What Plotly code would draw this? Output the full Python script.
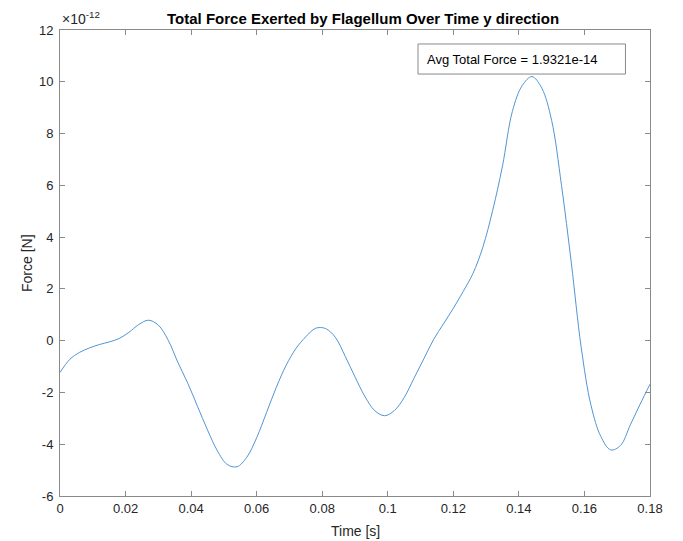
import plotly.graph_objects as go

# Time [s]
time_s = [0.000, 0.003, 0.006, 0.009, 0.012, 0.015, 0.018, 0.021, 0.024, 0.027,
          0.030, 0.033, 0.036, 0.039, 0.042, 0.045, 0.048, 0.051, 0.054, 0.057,
          0.060, 0.063, 0.066, 0.069, 0.072, 0.075, 0.078, 0.081, 0.084, 0.087,
          0.090, 0.093, 0.096, 0.099, 0.102, 0.105, 0.108, 0.111, 0.114, 0.117,
          0.120, 0.123, 0.126, 0.129, 0.132, 0.135, 0.138, 0.141, 0.144, 0.147,
          0.150, 0.153, 0.156, 0.159, 0.162, 0.165, 0.168, 0.171, 0.174, 0.177,
          0.180]
# Force in units of 1e-12 N
force_e12 = [-1.23, -0.72, -0.45, -0.28, -0.15, -0.05, 0.08, 0.32, 0.62, 0.79,
             0.60, 0.02, -0.85, -1.65, -2.55, -3.45, -4.25, -4.78, -4.87, -4.50,
             -3.75, -2.78, -1.80, -0.95, -0.30, 0.15, 0.48, 0.47, 0.13, -0.60,
             -1.40, -2.15, -2.70, -2.90, -2.70, -2.20, -1.45, -0.70, 0.05, 0.65,
             1.25, 1.90, 2.60, 3.61, 5.03, 6.75, 8.85, 9.85, 10.20, 9.75,
             8.50, 6.00, 3.00, -0.25, -2.50, -3.70, -4.22, -4.05, -3.25, -2.45,
             -1.68]

x_ticks = [0, 0.02, 0.04, 0.06, 0.08, 0.1, 0.12, 0.14, 0.16, 0.18]
x_labels = ["0", "0.02", "0.04", "0.06", "0.08", "0.1", "0.12", "0.14", "0.16", "0.18"]
y_ticks = [-6, -4, -2, 0, 2, 4, 6, 8, 10, 12]
y_labels = ["-6", "-4", "-2", "0", "2", "4", "6", "8", "10", "12"]

title = "Total Force Exerted by Flagellum Over Time y direction"
avg_text = "Avg Total Force = 1.9321e-14"
x_title = "Time [s]"
y_title = "Force [N]"

font_family = "Liberation Sans, Arial, Helvetica, sans-serif"
axis_col = "#8a8a8a"
text_col = "#262626"

fig = go.Figure()
fig.add_trace(go.Scatter(x=time_s, y=force_e12, mode="lines",
                         line=dict(color="rgb(80,150,212)", width=1, shape="spline", smoothing=1.0),
                         showlegend=False, hoverinfo="skip"))

axis_common = dict(showgrid=False, zeroline=False, showline=True, linecolor=axis_col, linewidth=1,
                   mirror="ticks", ticks="inside", ticklen=5, tickcolor=axis_col,
                   automargin=False,
                   tickfont=dict(family=font_family, size=13, color=text_col))

fig.update_layout(
    width=683, height=541,
    margin=dict(l=52, r=41, t=22, b=53),
    plot_bgcolor="white", paper_bgcolor="white",
    font=dict(family=font_family, color=text_col),
    xaxis=dict(range=[0, 0.18], tickvals=x_ticks, ticktext=x_labels, **axis_common),
    yaxis=dict(range=[-6, 12], tickvals=y_ticks, ticktext=y_labels, ticklabelstandoff=3,
               **axis_common),
)

# title
fig.add_annotation(xref="paper", yref="paper", x=0.514, y=1.0, yshift=12,
                   xanchor="center", yanchor="middle", showarrow=False,
                   text="<b>" + title + "</b>", font=dict(size=15, color="black", family=font_family))
# exponent label
fig.add_annotation(xref="paper", yref="paper", x=0.0, y=1.0, yshift=12,
                   xanchor="left", yanchor="middle", showarrow=False,
                   text="×10<sup>-12</sup>", font=dict(size=14, color=text_col, family=font_family))
# axis titles
fig.add_annotation(xref="paper", yref="paper", x=0.5, y=0.0, yshift=-35,
                   xanchor="center", yanchor="middle", showarrow=False,
                   text=x_title, font=dict(size=14, color=text_col, family=font_family))
fig.add_annotation(xref="paper", yref="paper", x=0.0, y=0.5, xshift=-33,
                   xanchor="center", yanchor="middle", showarrow=False, textangle=-90,
                   text=y_title, font=dict(size=14, color=text_col, family=font_family))

# average force text box
fig.add_shape(type="rect", xref="paper", yref="paper", x0=0.6068, x1=0.9584, y0=0.9055, y1=0.970,
              line=dict(color="#8a8a8a", width=1), fillcolor="white", layer="above")
fig.add_annotation(xref="paper", yref="paper", x=0.619, y=0.9377, xanchor="left", yanchor="middle",
                   showarrow=False, text=avg_text, font=dict(size=13, color="black", family=font_family))

fig.write_html("out.html")
